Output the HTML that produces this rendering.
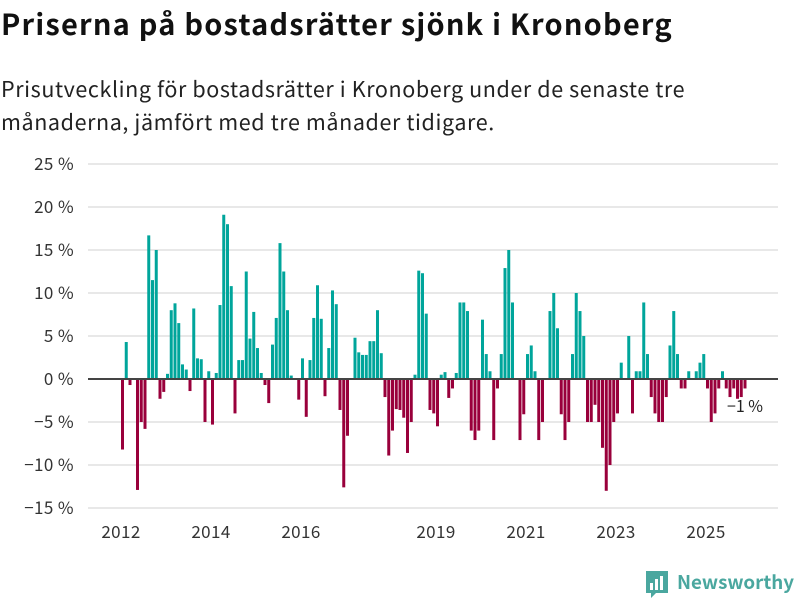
<!DOCTYPE html>
<html><head><meta charset="utf-8"><style>
body{margin:0;width:800px;height:600px;background:#fff;font-family:"Noto Sans CJK JP","Liberation Sans",sans-serif;overflow:hidden;position:relative}
h1{position:absolute;left:1px;top:2px;margin:0;font-size:29px;line-height:42px;font-weight:bold;color:#111;letter-spacing:1.2px}
p{position:absolute;left:1px;top:72px;margin:0;font-size:21.5px;line-height:33px;color:#222;width:795px;letter-spacing:0.6px}
svg{position:absolute;left:0;top:0;font-family:"Noto Sans CJK JP","Liberation Sans",sans-serif}
</style></head><body>
<h1>Priserna på bostadsrätter sjönk i Kronoberg</h1>
<p>Prisutveckling för bostadsrätter i Kronoberg under de senaste tre<br>månaderna, jämfört med tre månader tidigare.</p>
<svg id="chart" width="800" height="600"></svg>
<script>
const values=[-8.2,4.3,-0.7,0,-12.9,-5.0,-5.8,16.7,11.5,15,-2.3,-1.5,0.6,8,8.8,6.5,1.7,1.1,-1.4,8.2,2.4,2.3,-5,0.9,-5.3,0.7,8.6,19.1,
18,10.8,-4,2.2,2.2,12.5,4.7,7.8,3.6,0.7,-0.7,-2.8,4,7.1,15.8,12.5,8,0.4,0,-2.4,2.4,-4.4,2.2,7.1,10.9,7,-2,3.6,10.3,
8.7,-3.6,-12.6,-6.6,0,4.8,3.1,2.8,2.8,4.4,4.4,8,3,-2.1,-8.9,-6,-3.5,-3.6,-4.5,-8.6,-5,0.5,12.6,12.3,7.6,-3.6,-4,-5.5,0.5,
0.8,-2.2,-1.1,0.7,8.9,8.9,7.9,-6,-7.1,-6,6.9,2.9,0.9,-7.1,-1.1,2.9,12.9,15,8.9,0,-7.1,-4.1,2.9,3.9,0.9,-7.1,-5,
0,7.9,10,5.9,-4.1,-7.1,-5,2.9,10,7.9,5,-5,-5,-3,-5,-8,-13,-10,-5,-4,1.9,0,5,-4,0.9,0.9,8.9,2.9,-2.1,-4,
-5,-5,-2.1,3.9,7.9,2.9,-1.1,-1.1,0.9,0,0.9,1.9,2.9,-1.1,-5,-4,-1.1,0.9,-1.1,-2.1,-1.1,-2.3,-2.1,-1.1];
const yTicks=[25,20,15,10,5,0,-5,-10,-15];
const xTickYears=[2012,2014,2016,2019,2021,2023,2025];
const startYear=2012;
const lastLabel="−1 %";
const svg=document.getElementById('chart');const NS='http://www.w3.org/2000/svg';
const y=v=>379-v*8.6;
const x=i=>121+i*3.75;
function mk(t,a){const e=document.createElementNS(NS,t);for(const k in a)e.setAttribute(k,a[k]);svg.appendChild(e);return e;}
yTicks.forEach(t=>{
 const g=mk('line',{x1:88,x2:778,y1:y(t),y2:y(t),stroke:'#e0e0e0','stroke-width':1.5});
 
 
 const l=mk('text',{x:74,y:y(t)+6,'text-anchor':'end','font-size':17,fill:'#333','letter-spacing':0.4});
 l.textContent=(t<0?'−'+(-t):t)+' %';
 
 
});
values.forEach((v,i)=>{
 const r=mk('rect',{x:x(i),width:3,y:v>=0?y(v):y(0),height:Math.abs(y(v)-y(0)),fill:v>=0?'#00a59b':'#99003b'});
 
 
});
const z=mk('line',{x1:88,x2:778,y1:379,y2:379,stroke:'#444','stroke-width':2});


xTickYears.forEach(yr=>{
 const l=mk('text',{x:x((yr-startYear)*12),y:538,'text-anchor':'middle','font-size':17,fill:'#333','letter-spacing':0.4});
 l.textContent=yr;
 
 
});
const ll=mk('text',{x:745,y:412,'text-anchor':'middle','font-size':16,fill:'#222'});
ll.textContent=lastLabel;


const ic=mk('path',{d:'M646 571h22v22h-12l-5 5v-5h-5z',fill:'#4aa79f'});


[[650,583,3,7],[655,579,3,11],[660,576,3,14]].forEach(b=>{const r=mk('rect',{x:b[0],y:b[1],width:b[2],height:b[3],fill:'#fff'});});
const lt=mk('text',{x:677,y:589,'font-size':19,'font-weight':'bold',fill:'#4aa79f',textLength:117,lengthAdjust:'spacingAndGlyphs'});
lt.textContent='Newsworthy';


</script>
</body></html>
